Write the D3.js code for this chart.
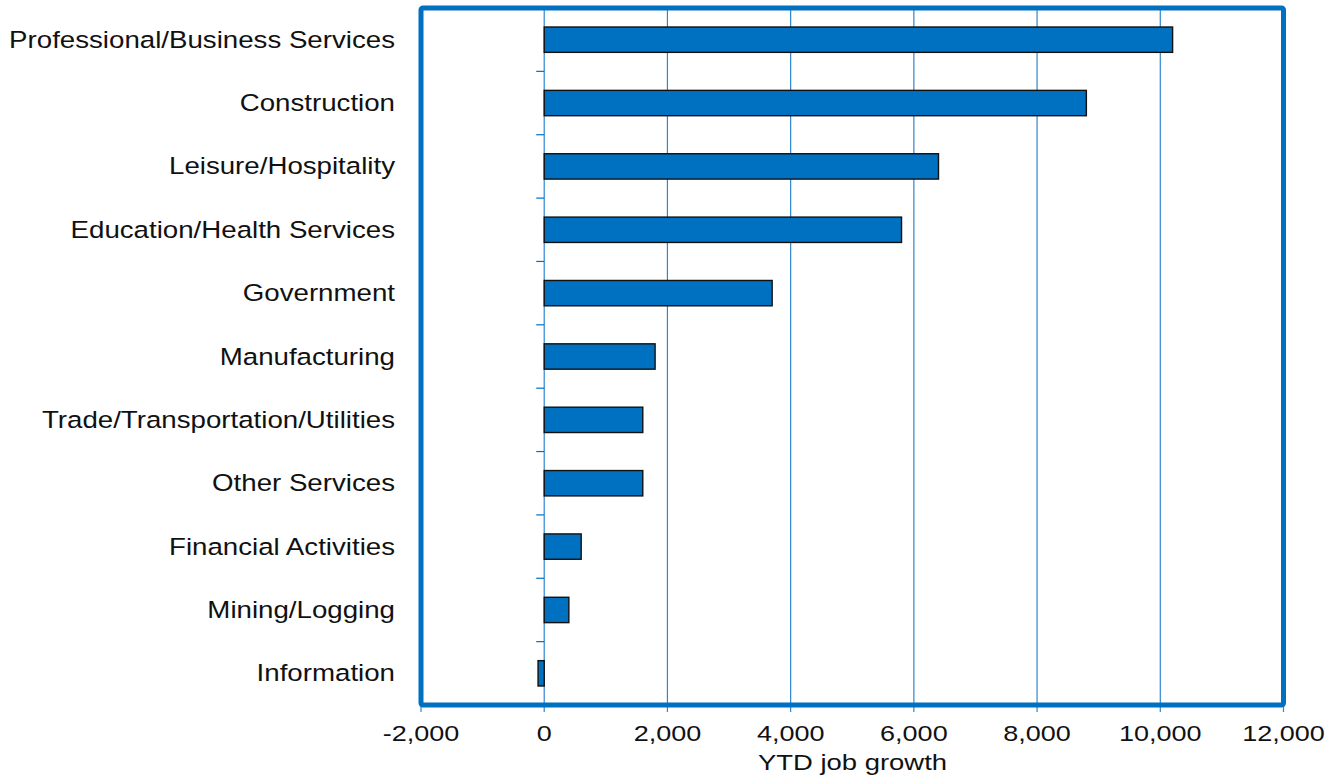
<!DOCTYPE html>
<html><head><meta charset="utf-8">
<script src="https://cdn.jsdelivr.net/npm/d3@7"></script>
<style>body{margin:0;background:#fff}svg{display:block}text{font-family:"Liberation Sans",Arial,sans-serif;fill:#111}</style>
</head><body>
<svg id="c" width="1332" height="777"></svg>
<script>
const categories = ["Professional/Business Services","Construction","Leisure/Hospitality","Education/Health Services","Government","Manufacturing","Trade/Transportation/Utilities","Other Services","Financial Activities","Mining/Logging","Information"];
const values = [10200,8800,6400,5800,3700,1800,1600,1600,600,400,-100];
const xTicks = [-2000,0,2000,4000,6000,8000,10000,12000];
const xTitle = "YTD job growth";

const blue = "#0070C0";
const svg = d3.select("#c");
const L=421, R=1283.5, T=8, B=705;
const x = d3.scaleLinear().domain([-2000,12000]).range([L,R]);
const y = d3.scaleBand().domain(categories).range([T,B]).paddingInner(0.6).paddingOuter(0.3);
const fmt = d3.format(",");

// gridlines
svg.append("g").selectAll("line").data(xTicks).join("line")
  .attr("x1",d=>x(d)).attr("x2",d=>x(d)).attr("y1",T).attr("y2",B+7)
  .attr("stroke","#2f86d0").attr("stroke-width",1.2);

// y tick marks at band boundaries
const bounds = d3.range(1,categories.length).map(i=>y(categories[i]) - (y.step()-y.bandwidth())/2);
svg.append("g").selectAll("line").data(bounds).join("line")
  .attr("x1",x(0)-8).attr("x2",x(0)).attr("y1",d=>d).attr("y2",d=>d)
  .attr("stroke",blue).attr("stroke-width",1.2);

// bars
svg.append("g").selectAll("rect").data(values).join("rect")
  .attr("x",(d)=>x(Math.min(0,d))).attr("width",d=>Math.abs(x(d)-x(0)))
  .attr("y",(d,i)=>y(categories[i])).attr("height",y.bandwidth())
  .attr("fill",blue).attr("stroke","#111").attr("stroke-width",1.4);

// frame
svg.append("rect").attr("x",L).attr("y",T).attr("width",R-L).attr("height",B-T)
  .attr("fill","none").attr("stroke",blue).attr("stroke-width",5).attr("rx",2);

// category labels
svg.append("g").selectAll("text").data(categories).join("text")
  .attr("transform",d=>`translate(395,${y(d)+y.bandwidth()/2+8}) scale(1.178,1)`)
  .attr("text-anchor","end").attr("font-size",23.5).text(d=>d);

// x tick labels
svg.append("g").selectAll("text").data(xTicks).join("text")
  .attr("transform",d=>`translate(${x(d)},741) scale(1.2,1)`)
  .attr("text-anchor","middle").attr("font-size",22.5).text(d=>fmt(d).replace("−","-"));

svg.append("text").attr("transform",`translate(852.5,770) scale(1.22,1)`)
  .attr("text-anchor","middle").attr("font-size",22.5).text(xTitle);
</script>
</body></html>
